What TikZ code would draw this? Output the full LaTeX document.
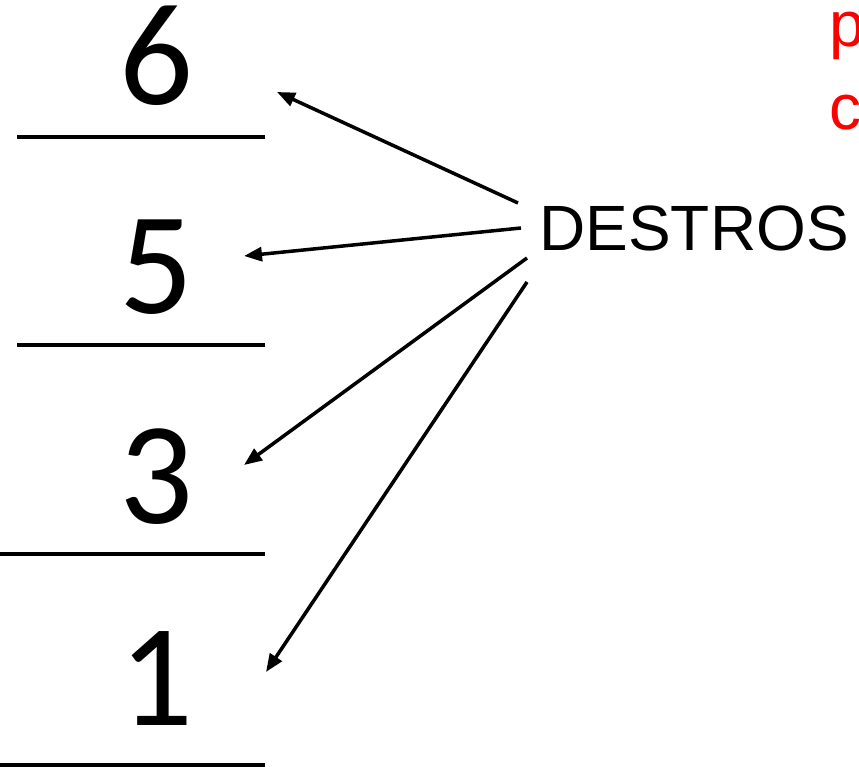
\documentclass[tikz,border=0pt]{standalone}
\usepackage{fontspec}
\setmainfont{Liberation Sans}
\newfontfamily\digitfont{Carlito}
\usetikzlibrary{arrows.meta}

\begin{document}
\begin{tikzpicture}[x=1pt,y=-1pt,
		line width=4pt,
		digit node/.style={inner sep=0pt,anchor=base,font=\digitfont\fontsize{146}{146}\selectfont},
		word node/.style={inner sep=0pt,font=\fontsize{64}{64}\selectfont},
		red node/.style={inner sep=0pt,anchor=base west,text=red,font=\fontsize{64}{64}\selectfont},
		pointer/.style={-{Triangle[length=18pt,width=14pt]},line width=3.5pt}]
		\useasboundingbox (0,0) rectangle (859,767);
		
		\node[digit node] (6) at (156,105) {6};
		\node[digit node] (5) at (156,313) {5};
		\node[digit node] (3) at (156,523) {3};
		\node[digit node] (1) at (156,725) {1};
		
		% bars under the numbers
		\draw (17,137) -- (265,137);
		\draw (17,345) -- (265,345);
		\draw (0,554) -- (265,554);
		\draw (0,765) -- (265,765);
		
		\node[word node] (d) at (694,228) {DESTROS};
		\node[red node] (p) at (827,47) {p};
		\node[red node] (c) at (827,130) {c};
		
		\coordinate (d6) at (518,203);
		\coordinate (d5) at (521,228);
		\coordinate (d3) at (527,258);
		\coordinate (d1) at (527,282);
		\coordinate (t6) at (277,92);
		\coordinate (t5) at (244,256);
		\coordinate (t3) at (244,465);
		\coordinate (t1) at (266,672);
		
		\path[pointer]
		(d6) edge (t6)
		(d5) edge (t5)
		(d3) edge (t3)
		(d1) edge (t1);
\end{tikzpicture}
\end{document}
